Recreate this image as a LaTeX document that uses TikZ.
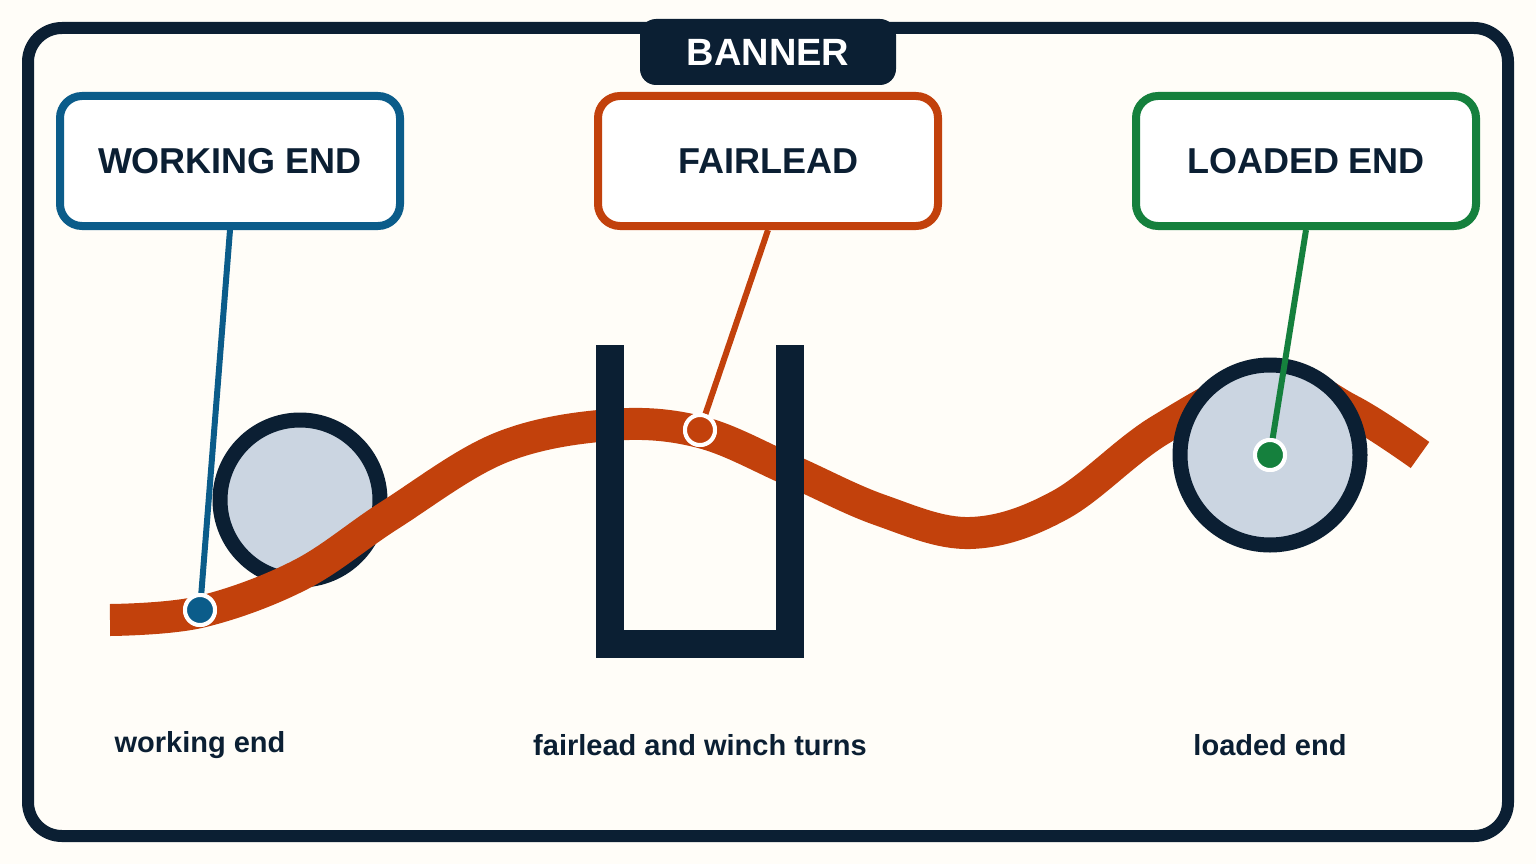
\documentclass[tikz,border=0pt]{standalone}
\usepackage{fontspec}
\setmainfont{Liberation Sans}
\definecolor{navy}{HTML}{0B1F33}
\definecolor{bg}{HTML}{FFFDF8}
\definecolor{wblue}{HTML}{0B5C8A}
\definecolor{forange}{HTML}{C2410C}
\definecolor{lgreen}{HTML}{15803D}
\definecolor{drum}{HTML}{CBD5E1}
\begin{document}
\begin{tikzpicture}[x=1pt,y=-1pt,
  lbox/.style={draw=#1,line width=8,rounded corners=22,fill=white,minimum width=340,minimum height=130,font=\fontsize{36}{42}\selectfont\bfseries,text=navy},
  lead/.style={draw=#1,line width=6},
  dotm/.style={circle,fill=#1,draw=white,line width=4,minimum size=30,inner sep=0},
  captxt/.style={font=\fontsize{29}{34}\selectfont\bfseries,text=navy}]
\useasboundingbox (0,0) rectangle (1536,864);
\fill[bg] (0,0) rectangle (1536,864);
\draw[navy,line width=12,rounded corners=34,fill=bg] (28,28) rectangle (1508,836);
\node[fill=navy,rounded corners=16,minimum width=256,minimum height=66,text=white,font=\fontsize{38}{44}\selectfont\bfseries] (banner) at (768,52) {BANNER};
% left drum
\draw[navy,line width=15,fill=drum] (300,500) circle (80);
% rope
\draw[forange,line width=32] plot[smooth,tension=0.6] coordinates {(110,620) (200,612) (300,575) (390,515) (500,448) (610,425) (700,432) (790,470) (880,510) (970,533) (1060,505) (1160,430) (1270,378) (1350,410) (1420,455)};
% fairlead U
\draw[navy,line width=28] (610,345) -- (610,644) -- (790,644) -- (790,345);
% right drum
\draw[navy,line width=15,fill=drum] (1270,455) circle (90);
% boxes
\node[lbox=wblue] (wb) at (230,161) {WORKING END};
\node[lbox=forange] (fb) at (768,161) {FAIRLEAD};
\node[lbox=lgreen] (lb) at (1306,161) {LOADED END};
% dots
\node[dotm=wblue] (wd) at (200,610) {};
\node[dotm=forange] (fd) at (700,430) {};
\node[dotm=lgreen] (ld) at (1270,455) {};
\draw[lead=wblue] (wb.south) -- (wd);
\draw[lead=forange] (fb.south) -- (fd);
\draw[lead=lgreen] (lb.south) -- (ld);
\node[dotm=wblue] at (wd) {};
\node[dotm=forange] at (fd) {};
\node[dotm=lgreen] at (ld) {};
\node[captxt] (c1) at (200,745) {working end};
\node[captxt] (c2) at (700,745) {fairlead and winch turns};
\node[captxt] (c3) at (1270,745) {loaded end};
\end{tikzpicture}
\end{document}
